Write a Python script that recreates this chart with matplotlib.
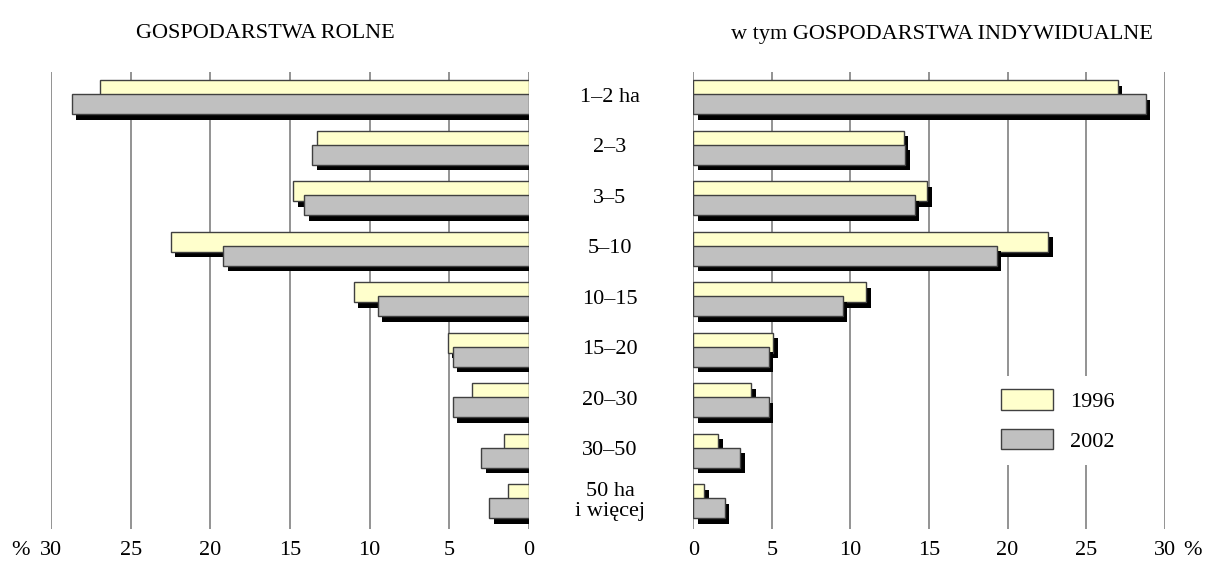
import numpy as np
import matplotlib
matplotlib.use('Agg')
import matplotlib.pyplot as plt
import matplotlib.patheffects as pe
import matplotlib.transforms as mtransforms
from matplotlib.patches import Patch

plt.rcParams['font.family'] = ['Liberation Serif', 'DejaVu Serif']
plt.rcParams['font.size'] = 16

# grupy obszarowe
grupy = ['1–2 ha', '2–3', '3–5', '5–10', '10–15', '15–20', '20–30', '30–50', '50 ha\ni więcej']

# gospodarstwa rolne (%)
rolne_1996 = [26.9, 13.3, 14.8, 22.5, 11.0, 5.1, 3.6, 1.6, 1.3]
rolne_2002 = [28.7, 13.6, 14.1, 19.2, 9.5, 4.8, 4.8, 3.0, 2.5]

# w tym gospodarstwa indywidualne (%)
indyw_1996 = [27.0, 13.4, 14.9, 22.6, 11.0, 5.1, 3.7, 1.6, 0.7]
indyw_2002 = [28.8, 13.5, 14.1, 19.3, 9.5, 4.8, 4.8, 3.0, 2.0]

lata = ['1996', '2002']
kolory = ['#FFFFCC', '#C0C0C0']
krawedz = '#404040'

fig = plt.figure(figsize=(12.12, 5.75), dpi=100)
ax1 = fig.add_axes([51 / 1212, 1 - 529 / 575, 478 / 1212, 457 / 575])
ax2 = fig.add_axes([693.3 / 1212, 1 - 529 / 575, 471.4 / 1212, 457 / 575])

y = np.arange(len(grupy))
cien = [pe.SimplePatchShadow(offset=(3.2, -4.0), shadow_rgbFace='black', alpha=1.0), pe.Normal()]

PAD = 8.5  # odstęp opisów osi (pt)

for ax, s1, s2 in [(ax1, rolne_1996, rolne_2002), (ax2, indyw_1996, indyw_2002)]:
    b1 = ax.barh(y - 0.14, s1, height=0.4, color=kolory[0], edgecolor=krawedz, linewidth=1, zorder=2)
    b2 = ax.barh(y + 0.14, s2, height=0.4, color=kolory[1], edgecolor=krawedz, linewidth=1, zorder=3)
    for b in list(b1) + list(b2):
        b.set_path_effects(cien)
    ax.set_ylim(8.55, -0.5)
    ax.set_xticks(range(0, 31, 5))
    ax.set_yticks([])
    ax.grid(axis='x', color='#808080', linewidth=1.2)
    ax.set_axisbelow(True)
    ax.tick_params(axis='x', length=0, pad=PAD, labelsize=16)
    for s in ax.spines.values():
        s.set_visible(False)

ax1.set_xlim(30, 0)
ax2.set_xlim(0, 30)

# znak % przy skrajnych opisach, w tej samej linii co liczby
for ax, xp in [(ax1, 31.9), (ax2, 31.8)]:
    t = mtransforms.blended_transform_factory(ax.transData, ax.transAxes)
    t = t + mtransforms.ScaledTranslation(0, -PAD / 72, fig.dpi_scale_trans)
    ax.text(xp, 0, '%', transform=t, ha='center', va='top', fontsize=16)

# etykiety grup w środku
tr = mtransforms.blended_transform_factory(fig.transFigure, ax2.transData)
for i, g in enumerate(grupy):
    ax2.text(610 / 1212, i, g, transform=tr, ha='center', va='center', fontsize=16,
             linespacing=1.05, clip_on=False)

fig.text(265 / 1212, 1 - 34 / 575, 'GOSPODARSTWA ROLNE', ha='center', va='center', fontsize=16)
fig.text(942 / 1212, 1 - 34 / 575, 'w tym GOSPODARSTWA INDYWIDUALNE', ha='center', va='center', fontsize=16)

uchwyty = [Patch(facecolor=kolory[0], edgecolor=krawedz, label=lata[0]),
           Patch(facecolor=kolory[1], edgecolor=krawedz, label=lata[1])]
leg = ax2.legend(handles=uchwyty, loc='upper left', bbox_to_anchor=(0.6245, 0.335),
                 frameon=True, fancybox=False, facecolor='white', edgecolor='none', framealpha=1,
                 borderpad=0.6, handlelength=2.35, handleheight=1.04, handletextpad=0.77,
                 labelspacing=0.75, borderaxespad=0, fontsize=16)
leg.set_zorder(5)

fig.savefig('out.png', dpi=100)
